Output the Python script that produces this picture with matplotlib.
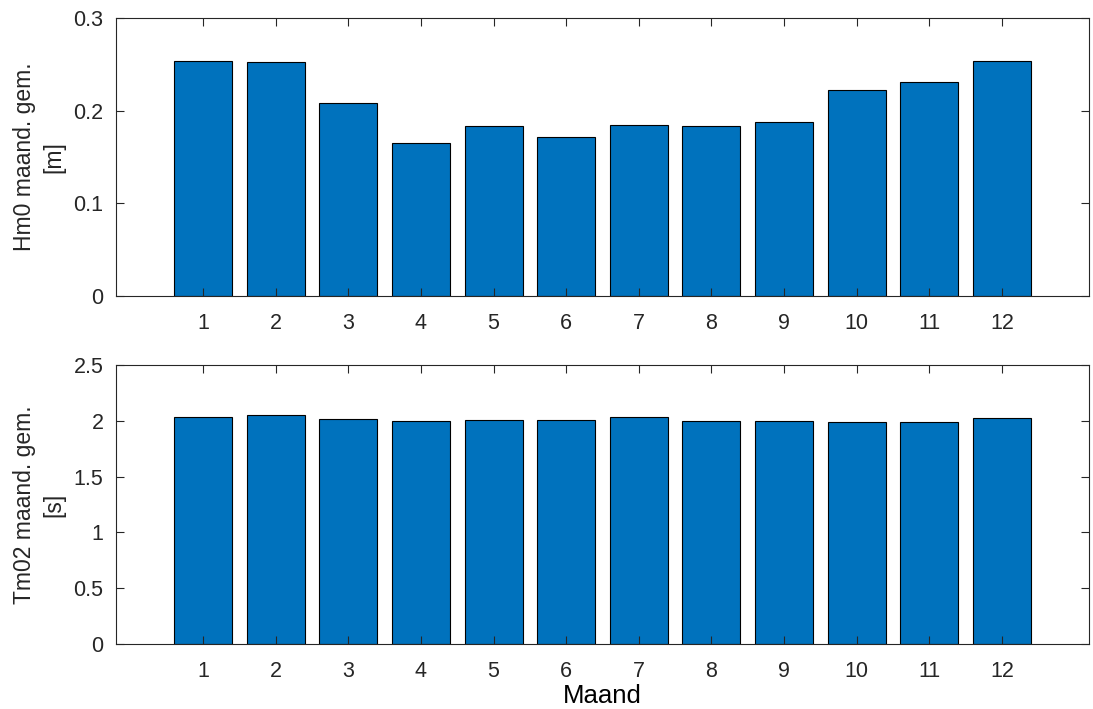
import matplotlib
matplotlib.use('Agg')
import matplotlib.pyplot as plt

# Monthly means
months = list(range(1, 13))
hm0 = [0.254, 0.252, 0.208, 0.165, 0.1835, 0.172, 0.184, 0.183, 0.1875, 0.222, 0.2305, 0.254]
tm02 = [2.032, 2.050, 2.018, 1.994, 2.003, 2.009, 2.036, 1.997, 1.994, 1.988, 1.988, 2.021]

plt.rcParams['font.family'] = ['Liberation Sans', 'DejaVu Sans']
axcol = '#262626'
barcol = '#0072BD'

fig = plt.figure(figsize=(10.93, 7.09), dpi=100)
ax1 = fig.add_axes([116 / 1093, 1 - 296 / 709, 973 / 1093, 278 / 709])
ax2 = fig.add_axes([116 / 1093, 1 - 644 / 709, 973 / 1093, 279 / 709])

panels = [
    (ax1, hm0, 'Hm0 maand. gem.\n[m]', [0, 0.1, 0.2, 0.3], ['0', '0.1', '0.2', '0.3'], 0.3),
    (ax2, tm02, 'Tm02 maand. gem.\n[s]', [0, 0.5, 1, 1.5, 2, 2.5], ['0', '0.5', '1', '1.5', '2', '2.5'], 2.5),
]

for ax, vals, ylab, yt, ytl, ymax in panels:
    ax.bar(months, vals, width=0.8, color=barcol, edgecolor='black', linewidth=0.8)
    ax.set_xlim(-0.2, 13.2)
    ax.set_ylim(0, ymax)
    ax.set_xticks(months)
    ax.set_xticklabels([str(m) for m in months])
    ax.set_yticks(yt)
    ax.set_yticklabels(ytl)
    ax.set_ylabel(ylab, fontsize=16.5, color=axcol, labelpad=6, linespacing=1.35)
    ax.tick_params(direction='in', top=True, right=True, labelsize=15.5,
                   colors=axcol, length=6, width=0.8)
    ax.tick_params(axis='x', pad=12)
    ax.tick_params(axis='y', pad=9)
    for s in ax.spines.values():
        s.set_color(axcol)
        s.set_linewidth(0.8)

ax2.set_xlabel('Maand', fontsize=18.5, color='black', labelpad=2)

fig.savefig('out.png', dpi=100)
